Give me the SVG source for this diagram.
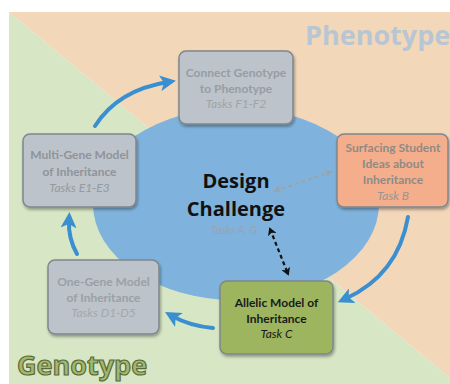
<svg xmlns="http://www.w3.org/2000/svg" width="450" height="384" viewBox="0 0 450 384">
<defs>
<style>
.box{stroke:#7f878d;stroke-width:1.5}
.gray{fill:#bcc3ca}
.t{font-family:Lato,"Open Sans",sans-serif;font-weight:bold;font-size:12px;text-anchor:middle;fill:#8e949a}
.ti{font-family:Lato,"Open Sans",sans-serif;font-style:italic;font-size:12px;text-anchor:middle;fill:#9ea3a8}
.flow{fill:none;stroke:#3a8fd0;stroke-width:4;stroke-linecap:round}
</style>
<marker id="ah" markerWidth="4" markerHeight="4" refX="2" refY="2" orient="auto" markerUnits="strokeWidth">
<path d="M0,0 L4,2 L0,4 L1,2 Z" fill="#3a8fd0"/>
</marker>
<marker id="dg" markerWidth="8" markerHeight="8" refX="6" refY="4" orient="auto-start-reverse" markerUnits="userSpaceOnUse">
<path d="M0,0 L8,4 L0,8 L2,4 Z" fill="#9aa3aa"/>
</marker>
<marker id="dk" markerWidth="8" markerHeight="9" refX="6" refY="4.5" orient="auto-start-reverse" markerUnits="userSpaceOnUse">
<path d="M0,0 L8,4.5 L0,9 L2,4.5 Z" fill="#111"/>
</marker>
<filter id="sh" x="-10%" y="-10%" width="125%" height="130%">
<feDropShadow dx="1" dy="2" stdDeviation="1.5" flood-color="#000" flood-opacity="0.35"/>
</filter>
</defs>
<rect width="450" height="384" fill="#ffffff"/>
<polygon points="9,12 9,384 450,384 450,378" fill="#d7e6c5"/>
<polygon points="9,12 450,12 450,378" fill="#f3d7b9"/>
<text x="305" y="45" font-family="'Open Sans',sans-serif" font-weight="bold" font-size="27" fill="#b8c6d3">Phenotype</text>
<text x="17" y="375" font-family="'Open Sans',sans-serif" font-weight="bold" font-size="27" fill="#a3b86e" stroke="#5b6b37" stroke-width="1.2">Genotype</text>
<g id="design-challenge">
<ellipse cx="236" cy="204" rx="143" ry="96" fill="#7fb3dd"/>
<text x="236" y="188" font-family="'Open Sans',sans-serif" font-weight="bold" font-size="20" text-anchor="middle" fill="#111">Design</text>
<text x="236" y="216" font-family="'Open Sans',sans-serif" font-weight="bold" font-size="20" text-anchor="middle" fill="#111">Challenge</text>
<text x="234" y="234" class="ti" style="font-size:11px;fill:#95a4b2">Tasks A, G</text>
</g>
<g id="connectors">
<path class="flow" d="M95,126 Q118,90 168,82" marker-end="url(#ah)"/>
<path class="flow" d="M408,217 Q398,275 345,299" marker-end="url(#ah)"/>
<path class="flow" d="M213,328 Q190,326 172,316" marker-end="url(#ah)"/>
<path class="flow" d="M77,254 Q68,238 69,220" marker-end="url(#ah)"/>
<line x1="275" y1="191" x2="331" y2="172" stroke="#9aa3aa" stroke-width="2" stroke-dasharray="4,3" marker-start="url(#dg)" marker-end="url(#dg)"/>
<line x1="270" y1="229" x2="288" y2="274" stroke="#111" stroke-width="2.2" stroke-dasharray="4,3" marker-start="url(#dk)" marker-end="url(#dk)"/>
</g>
<g id="connect-genotype">
<rect x="179" y="51" width="114" height="73" rx="7" class="box gray" filter="url(#sh)"/>
<text x="236" y="77" class="t" style="fill:#979da3">Connect Genotype</text>
<text x="236" y="93" class="t" style="fill:#979da3">to Phenotype</text>
<text x="236" y="108" class="ti">Tasks F1-F2</text>
</g>
<g id="surfacing">
<rect x="337" y="134" width="111" height="73" rx="7" class="box" fill="#f5ae8b" filter="url(#sh)"/>
<text x="393" y="152" class="t" style="fill:#8f8a86">Surfacing Student</text>
<text x="393" y="168" class="t" style="fill:#8f8a86">Ideas about</text>
<text x="393" y="184" class="t" style="fill:#8f8a86">Inheritance</text>
<text x="393" y="200" class="ti" style="fill:#9a9590">Task B</text>
</g>
<g id="multi-gene">
<rect x="23" y="134" width="113" height="73" rx="7" class="box gray" filter="url(#sh)"/>
<text x="79.5" y="159" class="t">Multi-Gene Model</text>
<text x="79.5" y="176" class="t">of Inheritance</text>
<text x="79.5" y="192" class="ti" style="fill:#949a9f">Tasks E1-E3</text>
</g>
<g id="one-gene">
<rect x="48" y="260" width="111" height="74" rx="7" class="box gray" filter="url(#sh)"/>
<text x="103.5" y="286" class="t" style="fill:#9aa0a6">One-Gene Model</text>
<text x="103.5" y="302" class="t" style="fill:#9aa0a6">of Inheritance</text>
<text x="103.5" y="317" class="ti" style="fill:#a3a8ad">Tasks D1-D5</text>
</g>
<g id="allelic">
<rect x="220" y="281" width="113" height="73" rx="7" class="box" fill="#9db55f" stroke="#6f7f55" filter="url(#sh)"/>
<text x="276.5" y="307" class="t" style="fill:#1a1a1a">Allelic Model of</text>
<text x="276.5" y="323" class="t" style="fill:#1a1a1a">Inheritance</text>
<text x="276.5" y="338" class="ti" style="fill:#1a1a1a">Task C</text>
</g>
</svg>
